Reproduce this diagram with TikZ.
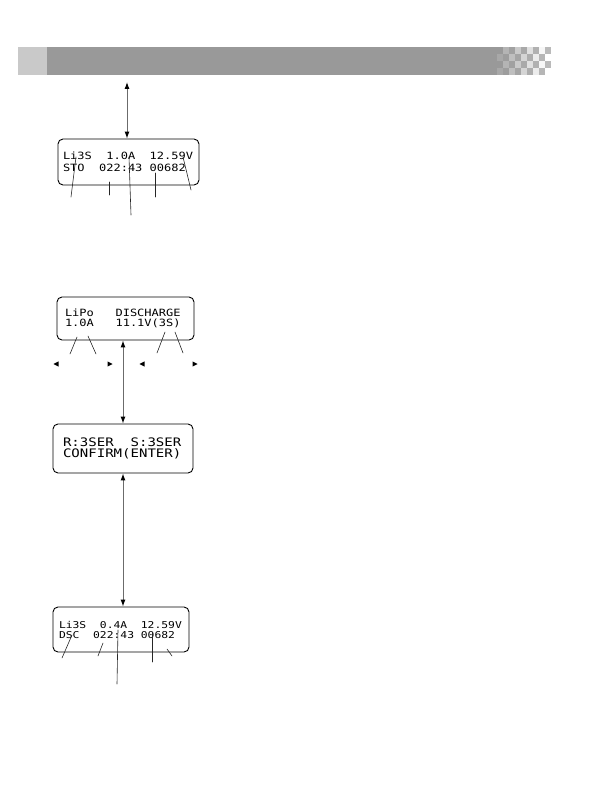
\documentclass[tikz,border=0pt]{standalone}
\usepackage{fontspec}
\usepackage{tikz}
\usetikzlibrary{arrows.meta,calc,positioning}
\usepackage{xcolor}
\newfontfamily\lcdfont[FakeStretch=1.2]{DejaVu Sans Mono}
\definecolor{bargray}{gray}{0.60}
\definecolor{tabgray}{gray}{0.79}
\definecolor{shaftgray}{gray}{0.42}
\newcommand{\lcdsize}[2]{\fontsize{#1}{#2}\selectfont}
\newcommand{\blank}{\phantom{0}}
\tikzset{
  lcd box/.style={draw,line width=.9pt,rounded corners=5pt,align=left,inner ysep=0pt},
  move link/.style={draw=shaftgray,line width=1pt,
    {Latex[length=7pt,width=5pt,black]}-{Latex[length=7pt,width=5pt,black]}},
  pointer/.style={line width=.6pt,draw=black!85}
}
\newcommand{\KeyLeft}[1]{\fill (#1) ++(-2.5,0) -- ++(5,-2.6) -- ++(0,5.2) -- cycle;}
\newcommand{\KeyRight}[1]{\fill (#1) ++(2.5,0) -- ++(-5,-2.6) -- ++(0,5.2) -- cycle;}

\begin{document}
\begin{tikzpicture}[x=1pt,y=-1pt,line cap=round,line join=round]
  \useasboundingbox (0,0) rectangle (595,805);

  % Page header bar with the checkered fade at its right end.
  \fill[tabgray] (18,47) rectangle (47,75);
  \fill[bargray] (47,47) rectangle (497,75);
  \foreach \i in {0,...,8} {
    \foreach \j in {0,...,3} {
      \pgfmathtruncatemacro{\odd}{mod(\i+\j,2)}
      \pgfmathtruncatemacro{\fade}{max(0,85-11*\i)}
      \pgfmathtruncatemacro{\keep}{100-4*\i}
      \ifnum\odd=0
        \fill[bargray!\keep!white] ({497+6*\i},{47+7*\j}) rectangle ++(6,7);
      \else
        \fill[bargray!\fade!white] ({497+6*\i},{47+7*\j}) rectangle ++(6,7);
      \fi
    }
  }

  % The four screens.
  \node[lcd box,inner xsep=5pt,text width=131pt,minimum height=46pt,
        font=\lcdfont\lcdsize{10}{11.5}] (scr1) at (128.5,162)
        {Li3S\blank\blank1.0A\blank\blank12.59V\\STO\blank\blank022:43\blank00682};
  \node[lcd box,inner xsep=8pt,text width=121pt,minimum height=43pt,
        font=\lcdfont\lcdsize{10}{10}] (scr2) at (125.5,318.5)
        {LiPo\blank\blank\blank DISCHARGE\\1.0A\blank\blank\blank11.1V(3S)};
  \node[lcd box,inner xsep=10pt,text width=120pt,minimum height=49pt,
        font=\lcdfont\lcdsize{11.7}{11.7}] (scr3) at (123,448.5)
        {R:3SER\blank\blank S:3SER\\CONFIRM(ENTER)};
  \node[lcd box,inner xsep=6pt,text width=124pt,minimum height=45pt,
        font=\lcdfont\lcdsize{9.45}{10}] (scr4) at (121,629.5)
        {Li3S\blank\blank0.4A\blank\blank12.59V\\DSC\blank\blank022:43\blank00682};

  % Moves between the screens.
  \coordinate (menu) at (127,82);
  \draw[move link] (menu) -- (menu |- scr1.north);
  \draw[move link] (scr2.south -| scr3.north) -- (scr3.north);
  \draw[move link] (scr3.south) -- (scr3.south |- scr4.north);

  % Pointers to the fields of each screen.
  \foreach \n/\sx/\sy/\ex/\ey in {
      a1/76/157/71/197, a2/109/182/109/195, a3/129/157/131/215,
      a4/155/173/155/197, a5/183/157/191/190,
      b1/77/337/70/354, b2/88/336/96/354, b3/165/332/157/353, b4/175/332/183/353,
      c1/72/635/62/658, c2/103/643/98/656, c3/118/630/117/684,
      c4/152/633/152/662, c5/167/649/172/656} {
    \coordinate (\n-top) at (\sx,\sy);
    \coordinate (\n-end) at (\ex,\ey);
    \draw[pointer] (\n-top) -- (\n-end);
  }

  % Key marks under the setup screen.
  \coordinate (typeL) at (56,364);
  \coordinate (typeR) at (110,364);
  \coordinate (cellL) at (142,364);
  \coordinate (cellR) at (195,364);
  \KeyLeft{typeL} \KeyRight{typeR}
  \KeyLeft{cellL} \KeyRight{cellR}
\end{tikzpicture}
\end{document}
